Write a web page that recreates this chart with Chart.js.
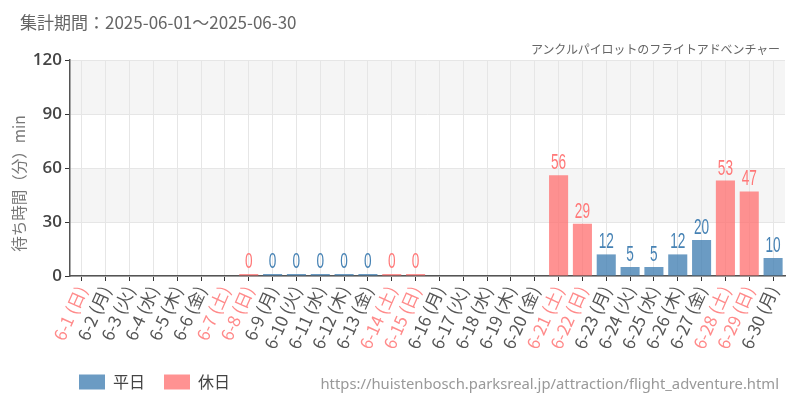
<!DOCTYPE html>
<html lang="ja">
<head>
<meta charset="utf-8">
<title>待ち時間</title>
<script src="https://cdn.jsdelivr.net/npm/chart.js@4"></script>
<style>
  body { margin: 0; background: #fff; }
  #wrap { position: relative; width: 800px; height: 400px; font-family: "Noto Sans CJK JP", "Noto Sans", sans-serif; }
  #chart { position: absolute; left: 0; top: 0; }
  .txt { position: absolute; line-height: 16px; white-space: nowrap; }
  #period { left: 20px; top: 14px; font-size: 17px; color: #666; }
  #ride { right: 20px; top: 41px; font-size: 12px; letter-spacing: -0.1px; color: #666; }
  #source { right: 21px; top: 375px; font-size: 14.8px; color: #999; font-family: "Noto Sans", sans-serif; }
</style>
</head>
<body>
<div id="wrap">
  <canvas id="chart" width="800" height="400"></canvas>
  <div class="txt" id="period">集計期間：2025-06-01～2025-06-30</div>
  <div class="txt" id="ride">アンクルパイロットのフライトアドベンチャー</div>
  <div class="txt" id="source">https://huistenbosch.parksreal.jp/attraction/flight_adventure.html</div>
</div>
<script>
// Daily labels for June 2025
const dayLabels = [
  '6-1 (日)', '6-2 (月)', '6-3 (火)', '6-4 (水)', '6-5 (木)', '6-6 (金)', '6-7 (土)',
  '6-8 (日)', '6-9 (月)', '6-10 (火)', '6-11 (水)', '6-12 (木)', '6-13 (金)', '6-14 (土)',
  '6-15 (日)', '6-16 (月)', '6-17 (火)', '6-18 (水)', '6-19 (木)', '6-20 (金)', '6-21 (土)',
  '6-22 (日)', '6-23 (月)', '6-24 (火)', '6-25 (水)', '6-26 (木)', '6-27 (金)', '6-28 (土)',
  '6-29 (日)', '6-30 (月)'
];

// Weekend flag per day
const isHoliday = [
  true, false, false, false, false, false, true,
  true, false, false, false, false, false, true,
  true, false, false, false, false, false, true,
  true, false, false, false, false, false, true,
  true, false
];

// Wait time (min) per day, null = no data
const waitTimes = [
  null, null, null, null, null, null, null,
  0, 0, 0, 0, 0, 0, 0,
  0, null, null, null, null, null, 56,
  29, 12, 5, 5, 12, 20, 53,
  47, 10
];

const yTicks = [0, 30, 60, 90, 120];

const WEEKDAY_BAR = 'rgba(70, 130, 180, 0.8)';
const HOLIDAY_BAR = 'rgba(255, 110, 110, 0.75)';
const WEEKDAY_TEXT = '#4682b4';
const HOLIDAY_TEXT = '#ff7878';

const weekdayData = waitTimes.map((v, i) => isHoliday[i] ? null : v);
const holidayData = waitTimes.map((v, i) => isHoliday[i] ? v : null);

// Alternating background bands
const bandPlugin = {
  id: 'bands',
  beforeDraw(chart) {
    const {ctx, chartArea, scales} = chart;
    const y = scales.y;
    ctx.save();
    ctx.fillStyle = '#f5f5f5';
    [[90, 120], [30, 60]].forEach(([lo, hi]) => {
      const top = y.getPixelForValue(hi);
      const bottom = y.getPixelForValue(lo);
      ctx.fillRect(chartArea.left, top, chartArea.right - chartArea.left, bottom - top);
    });
    ctx.restore();
  }
};

// Value labels above bars (narrowed)
const valueLabelPlugin = {
  id: 'valueLabels',
  afterDatasetsDraw(chart) {
    const ctx = chart.ctx;
    chart.data.datasets.forEach((ds, di) => {
      const meta = chart.getDatasetMeta(di);
      meta.data.forEach((bar, i) => {
        const v = ds.data[i];
        if (v === null || v === undefined) return;
        ctx.save();
        ctx.translate(bar.x, bar.y - 1);
        ctx.scale(0.62, 1);
        ctx.font = '22px "Liberation Sans", sans-serif';
        ctx.textAlign = 'center';
        ctx.textBaseline = 'bottom';
        ctx.fillStyle = di === 0 ? WEEKDAY_TEXT : HOLIDAY_TEXT;
        ctx.fillText(String(v), 0, 0);
        ctx.restore();
      });
    });
  }
};

// Move legend to line up under the axis
const legendShiftPlugin = {
  id: 'legendShift',
  afterLayout(chart) {
    if (chart.legend) {
      chart.legend.left += 50;
    }
  }
};

new Chart(document.getElementById('chart').getContext('2d'), {
  type: 'bar',
  data: {
    labels: dayLabels,
    datasets: [{
      label: '平日',
      data: weekdayData,
      backgroundColor: WEEKDAY_BAR,
      grouped: false,
      barPercentage: 0.8,
      categoryPercentage: 1.0,
      minBarLength: 2
    }, {
      label: '休日',
      data: holidayData,
      backgroundColor: HOLIDAY_BAR,
      grouped: false,
      barPercentage: 0.8,
      categoryPercentage: 1.0,
      minBarLength: 2
    }]
  },
  options: {
    responsive: false,
    animation: false,
    layout: {
      padding: { top: 60, right: 15, left: 10, bottom: 0 }
    },
    scales: {
      x: {
        grid: {
          offset: false,
          color: '#e6e6e6',
          tickColor: '#333',
          tickLength: 5
        },
        border: { color: '#555', width: 1.5 },
        ticks: {
          autoSkip: false,
          minRotation: 66,
          maxRotation: 66,
          padding: 2,
          font: { family: '"Noto Sans CJK JP", sans-serif', size: 17 },
          color: (c) => isHoliday[c.index] ? '#ff8a8a' : '#555'
        },
        afterFit(scale) { scale.height = 79; }
      },
      y: {
        min: 0,
        max: 120,
        afterBuildTicks(scale) {
          scale.ticks = yTicks.map(v => ({ value: v }));
        },
        grid: {
          color: '#e6e6e6',
          tickColor: '#333',
          tickLength: 5
        },
        border: { color: '#555', width: 1.5 },
        ticks: {
          padding: 3,
          font: { family: '"Open Sans", sans-serif', size: 17, weight: '600' },
          color: '#444'
        },
        title: {
          display: true,
          text: '待ち時間（分）min　　',
          color: '#777',
          padding: { top: 0, bottom: 2 },
          font: { family: '"Noto Sans CJK JP", sans-serif', size: 15.5 }
        },
        afterFit(scale) { scale.width = 60; }
      }
    },
    plugins: {
      legend: {
        position: 'bottom',
        align: 'start',
        labels: {
          boxWidth: 26,
          boxHeight: 15,
          padding: 19,
          color: '#444',
          font: { family: '"Noto Sans CJK JP", sans-serif', size: 16 }
        }
      },
      tooltip: { enabled: false }
    }
  },
  plugins: [bandPlugin, valueLabelPlugin, legendShiftPlugin]
});
</script>
</body>
</html>
